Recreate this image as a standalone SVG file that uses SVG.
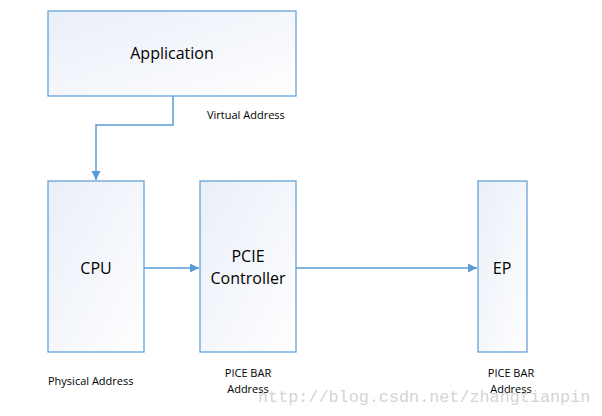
<svg xmlns="http://www.w3.org/2000/svg" width="602" height="416" viewBox="0 0 602 416">
<defs>
<linearGradient id="g" x1="0" y1="0" x2="1" y2="1">
<stop offset="0" stop-color="#e9eef8"/>
<stop offset="1" stop-color="#ffffff"/>
</linearGradient>
<marker id="arr" markerWidth="10" markerHeight="10" refX="9" refY="5" orient="auto" markerUnits="userSpaceOnUse">
<path d="M0,0.5 L9,5 L0,9.5 Z" fill="#5b9bd5"/>
</marker>
<style>
.box{fill:url(#g);stroke:#5b9bd5;stroke-width:1.2}
.big{font-family:"Open Sans","Noto Sans","DejaVu Sans",sans-serif;font-size:16px;fill:#000;text-anchor:middle}
.small{font-family:"Open Sans","Noto Sans","DejaVu Sans",sans-serif;font-size:11px;fill:#000}
.c{fill:none;stroke:#5b9bd5;stroke-width:1.5}
.wm{font-family:"Liberation Mono","DejaVu Sans Mono",monospace;font-size:16.8px;fill:#d4d4d4}
</style>
</defs>
<rect width="602" height="416" fill="#fff"/>
<text class="wm" x="258" y="402">http://blog.csdn.net/zhangtianpin</text>
<g id="connectors">
<path class="c" d="M173,96 V125 H96 V180" marker-end="url(#arr)"/>
<path class="c" d="M144,268 H199" marker-end="url(#arr)"/>
<path class="c" d="M296,268 H477" marker-end="url(#arr)"/>
</g>
<g id="application">
<rect class="box" x="48" y="11" width="248" height="85"/>
<text class="big" x="172" y="59">Application</text>
</g>
<g id="cpu">
<rect class="box" x="48" y="181" width="96" height="171"/>
<text class="big" x="96" y="274">CPU</text>
</g>
<g id="pcie">
<rect class="box" x="200" y="181" width="96" height="171"/>
<text class="big" x="248" y="262">PCIE</text>
<text class="big" x="248" y="284">Controller</text>
</g>
<g id="ep">
<rect class="box" x="478" y="181" width="49" height="171"/>
<text class="big" x="502" y="274">EP</text>
</g>
<g id="labels">
<text class="small" x="207" y="119">Virtual Address</text>
<text class="small" x="48" y="385">Physical Address</text>
<text class="small" x="248" y="377" text-anchor="middle">PICE BAR</text>
<text class="small" x="248" y="393" text-anchor="middle">Address</text>
<text class="small" x="511" y="377" text-anchor="middle">PICE BAR</text>
<text class="small" x="511" y="393" text-anchor="middle">Address</text>
</g>
</svg>
